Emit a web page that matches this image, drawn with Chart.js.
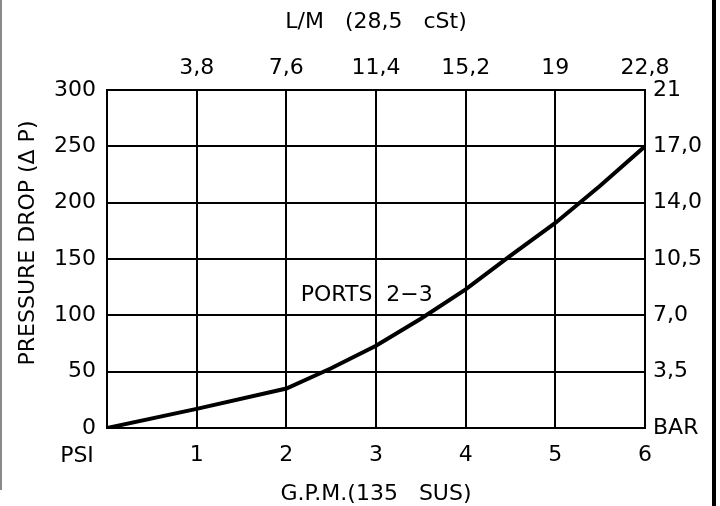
<!DOCTYPE html>
<html>
<head>
<meta charset="utf-8">
<script src="https://cdn.jsdelivr.net/npm/chart.js@4"></script>
<style>
	body { margin: 0; background: #fff; }
	#wrap { position: relative; width: 720px; height: 506px; }
	#edgeLeft { position: absolute; left: 0; top: 0; width: 2px; height: 490px; background: #8a8a8a; }
	#edgeRight { position: absolute; left: 712px; top: 0; width: 4px; height: 506px; background: #000; }
</style>
</head>
<body>
<div id="wrap">
	<canvas id="chart" width="720" height="506"></canvas>
	<div id="edgeLeft"></div>
	<div id="edgeRight"></div>
</div>
<script>
// flow in G.P.M. and pressure drop in PSI
const gpm = [0, 1, 2, 2.5, 3, 3.5, 4, 4.5, 5, 5.5, 6]
const psi = [0, 17, 35, 53, 73, 97, 123, 153, 182, 215, 250]

// tick labels
const gpmTicks = ['', '1', '2', '3', '4', '5', '6']
const lpmTicks = ['', '3,8', '7,6', '11,4', '15,2', '19', '22,8']
const barTicks = ['BAR', '3,5', '7,0', '10,5', '14,0', '17,0', '21']

const FONT = { family: '"DejaVu Sans", sans-serif', size: 22 }

// text that is not tied to an axis tick
const textPlugin = {
	id: 'extraText',
	afterDraw(chart) {
		const { ctx, scales } = chart
		ctx.save()
		ctx.fillStyle = '#000'
		ctx.font = '22px "DejaVu Sans", sans-serif'
		ctx.textBaseline = 'middle'

		ctx.textAlign = 'center'
		ctx.fillText('PSI', 77, 456)

		ctx.textAlign = 'left'
		ctx.fillText('PORTS  2\u22123', scales.x.getPixelForValue(2.16), scales.y.getPixelForValue(118))

		ctx.translate(28, 243)
		ctx.rotate(-Math.PI / 2)
		ctx.textAlign = 'center'
		ctx.fillText('PRESSURE DROP (\u0394 P)', 0, 0)
		ctx.restore()
	},
}

const fixSize = (prop, size) => scale => { scale[prop] = size }

const ctx = document.getElementById('chart').getContext('2d')
const myChart = new Chart(ctx, {
	type: 'line',
	data: {
		datasets: [
			{
				data: gpm.map((g, i) => ({ x: g, y: psi[i] })),
				borderColor: '#000',
				borderWidth: 4,
				pointRadius: 0,
				tension: 0,
				xAxisID: 'x',
				yAxisID: 'y',
			},
		],
	},
	options: {
		responsive: false,
		animation: false,
		layout: { padding: 0 },
		plugins: {
			legend: { display: false },
			tooltip: { enabled: false },
		},
		scales: {
			x: {
				type: 'linear',
				position: 'bottom',
				min: 0,
				max: 6,
				afterFit: fixSize('height', 78),
				ticks: {
					stepSize: 1,
					color: '#000',
					font: FONT,
					padding: 14,
					maxRotation: 0,
					callback: (v, i) => gpmTicks[i],
				},
				grid: { color: '#000', lineWidth: 2, drawTicks: false },
				border: { color: '#000', width: 2 },
				title: {
					display: true,
					text: 'G.P.M.(135   SUS)',
					color: '#000',
					font: FONT,
					padding: { top: 0, bottom: -1 },
				},
			},
			x2: {
				type: 'linear',
				position: 'top',
				min: 0,
				max: 6,
				afterFit: fixSize('height', 90),
				ticks: {
					stepSize: 1,
					color: '#000',
					font: FONT,
					padding: 9,
					maxRotation: 0,
					callback: (v, i) => lpmTicks[i],
				},
				grid: { display: false, drawTicks: false },
				border: { color: '#000', width: 2 },
				title: {
					display: true,
					text: 'L/M   (28,5   cSt)',
					color: '#000',
					font: FONT,
					padding: { top: 9, bottom: 0 },
				},
			},
			y: {
				position: 'left',
				min: 0,
				max: 300,
				afterFit: fixSize('width', 107),
				ticks: { stepSize: 50, color: '#000', font: FONT, padding: 11 },
				grid: { color: '#000', lineWidth: 2, drawTicks: false },
				border: { color: '#000', width: 2 },
			},
			y2: {
				position: 'right',
				min: 0,
				max: 300,
				afterFit: fixSize('width', 75),
				ticks: {
					stepSize: 50,
					color: '#000',
					font: FONT,
					padding: 8,
					callback: (v, i) => barTicks[i],
				},
				grid: { display: false, drawTicks: false },
				border: { color: '#000', width: 2 },
			},
		},
	},
	plugins: [textPlugin],
})
</script>
</body>
</html>
